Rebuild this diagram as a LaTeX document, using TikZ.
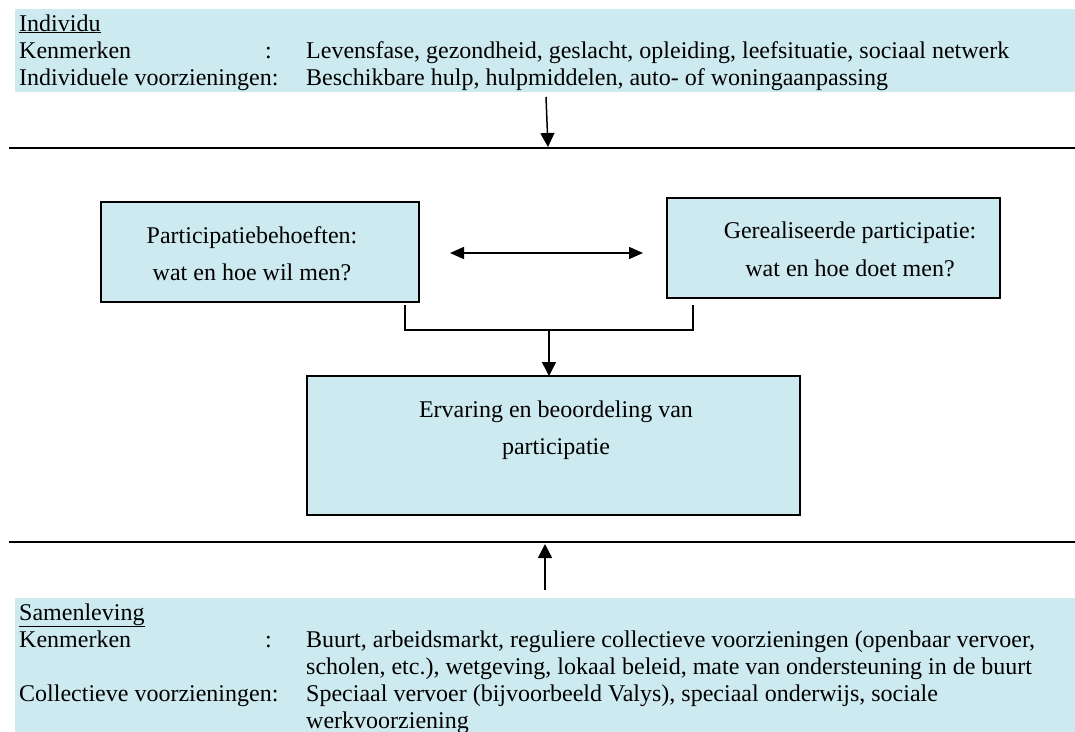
\documentclass[tikz,border=0pt]{standalone}
\usepackage{fontspec}
\setmainfont{Liberation Serif}
\usetikzlibrary{arrows.meta}
\definecolor{bandfill}{RGB}{205,234,240}
\tikzset{
  txt/.style={anchor=base west, inner sep=0pt, font=\fontsize{24}{27}\selectfont},
  ctxt/.style={anchor=base, inner sep=0pt, font=\fontsize{24}{27}\selectfont},
  pbox/.style={draw=black, line width=2pt, fill=bandfill, inner sep=0pt},
  sepline/.style={line width=2.7pt},
  conn/.style={line width=1.5pt},
  arr/.style={conn, -{Triangle[width=14pt,length=14pt]}},
  darr/.style={conn, {Triangle[width=12pt,length=14pt]}-{Triangle[width=12pt,length=14pt]}},
}
\begin{document}
\begin{tikzpicture}[x=1pt,y=-1pt]
\useasboundingbox (0,0) rectangle (1075,731);
% top band
\fill[bandfill] (15,9) rectangle (1075,92);
\node[txt] (ind) at (19,31) {\underline{Individu}};
\node[txt] (ik) at (19,58) {Kenmerken};
\node[txt] (ikc) at (265,58) {:};
\node[txt] (ikv) at (306,58) {Levensfase, gezondheid, geslacht, opleiding, leefsituatie, sociaal netwerk};
\node[txt] (iv) at (19,85) {Individuele voorzieningen:};
\node[txt] (ivv) at (306,85) {Beschikbare hulp, hulpmiddelen, auto- of woningaanpassing};
% top separator and arrow
\coordinate (tl1) at (9,148);
\coordinate (tl2) at (1075,148);
\draw[sepline] (tl1) -- (tl2);
\coordinate (ta1) at (546,97);
\coordinate (ta2) at (548,147);
\draw[arr] (ta1) -- (ta2);
% boxes
\node[pbox, minimum width=318pt, minimum height=100pt] (need) at (260,252) {};
\node[ctxt] (need1) at (252,243) {Participatiebehoeften:};
\node[ctxt] (need2) at (252,280) {wat en hoe wil men?};
\node[pbox, minimum width=333pt, minimum height=100pt] (real) at (833.5,248) {};
\node[ctxt] (real1) at (850,238) {Gerealiseerde participatie:};
\node[ctxt] (real2) at (850,276) {wat en hoe doet men?};
\node[pbox, minimum width=493pt, minimum height=139pt] (eval) at (553.5,445.5) {};
\node[ctxt] (eval1) at (556,417) {Ervaring en beoordeling van};
\node[ctxt] (eval2) at (556,454) {participatie};
% double arrow
\coordinate (da1) at (450,253);
\coordinate (da2) at (643,253);
\draw[darr] (da1) -- (da2);
% bracket
\coordinate (bl) at (405,305);
\coordinate (br) at (693,305);
\coordinate (bj) at (549,330);
\draw[conn] (bl) |- (bj) -| (br);
\coordinate (bt) at (549,376);
\draw[arr] (bj) -- (bt);
% bottom separator and arrow
\coordinate (bl1) at (9,542);
\coordinate (bl2) at (1075,542);
\draw[sepline] (bl1) -- (bl2);
\coordinate (ba1) at (545,590);
\coordinate (ba2) at (545,544);
\draw[arr] (ba1) -- (ba2);
% bottom band
\fill[bandfill] (15,598) rectangle (1075,745);
\node[txt] (sam) at (19,620) {\underline{Samenleving}};
\node[txt] (sk) at (19,647) {Kenmerken};
\node[txt] (skc) at (265,647) {:};
\node[txt] (skv1) at (306,647) {Buurt, arbeidsmarkt, reguliere collectieve voorzieningen (openbaar vervoer,};
\node[txt] (skv2) at (306,674) {scholen, etc.), wetgeving, lokaal beleid, mate van ondersteuning in de buurt};
\node[txt] (sv) at (19,701) {Collectieve voorzieningen:};
\node[txt] (svv1) at (306,701) {Speciaal vervoer (bijvoorbeeld Valys), speciaal onderwijs, sociale};
\node[txt] (svv2) at (306,728) {werkvoorziening};
\end{tikzpicture}
\end{document}
